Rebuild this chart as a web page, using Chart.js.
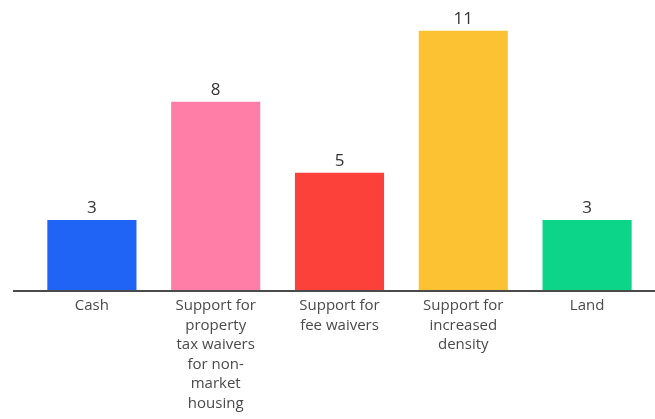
<!DOCTYPE html>
<html>
<head>
<meta charset="utf-8">
<script src="https://cdn.jsdelivr.net/npm/chart.js@4"></script>
<style>
  body { margin: 0; background: #fff; }
  #wrap { width: 655px; height: 419px; }
</style>
</head>
<body>
<div id="wrap"><canvas id="supportChart" width="655" height="419"></canvas></div>
<script>
const categories = [
    ["Cash"],
    ["Support for", "property", "tax waivers", "for non-", "market", "housing"],
    ["Support for", "fee waivers"],
    ["Support for", "increased", "density"],
    ["Land"]
];
const counts = [3, 8, 5, 11, 3];
const barColors = ["#1f64f4", "#fe7ea8", "#fc403a", "#fdc233", "#0cd58a"];

// 在柱子上方寫數值
const valueLabels = {
    id: "valueLabels",
    afterDatasetsDraw(chart) {
        const ctx = chart.ctx;
        const meta = chart.getDatasetMeta(0);
        ctx.save();
        ctx.font = "17px 'Open Sans'";
        ctx.fillStyle = "#333";
        ctx.textAlign = "center";
        ctx.textBaseline = "bottom";
        meta.data.forEach((bar, i) => {
            ctx.fillText(counts[i], bar.x, bar.y - 3);
        });
        ctx.restore();
    }
};

// 底線比圖區更寬
const baseLine = {
    id: "baseLine",
    afterDatasetsDraw(chart) {
        const ctx = chart.ctx;
        const y = chart.scales.y.getPixelForValue(0);
        ctx.save();
        ctx.strokeStyle = "#4a4a4a";
        ctx.lineWidth = 2;
        ctx.beginPath();
        ctx.moveTo(13, y);
        ctx.lineTo(655, y);
        ctx.stroke();
        ctx.restore();
    }
};

const ctx = document.getElementById("supportChart").getContext("2d");
new Chart(ctx, {
    type: "bar",
    data: {
        labels: categories,
        datasets: [{
            data: counts,
            backgroundColor: barColors,
            borderWidth: 0,
            categoryPercentage: 0.72,
            barPercentage: 1
        }]
    },
    options: {
        responsive: false,
        animation: false,
        layout: { padding: { left: 30, right: 6, top: 7, bottom: 1 } },
        plugins: {
            legend: { display: false },
            tooltip: { enabled: false }
        },
        scales: {
            x: {
                grid: { display: false, drawTicks: false },
                border: { display: false },
                ticks: {
                    color: "#4a4a4a",
                    font: { family: "'Open Sans'", size: 15, lineHeight: 1.3 },
                    padding: 5,
                    maxRotation: 0,
                    autoSkip: false
                }
            },
            y: {
                display: false,
                min: 0,
                max: 12
            }
        }
    },
    plugins: [valueLabels, baseLine]
});
</script>
</body>
</html>
